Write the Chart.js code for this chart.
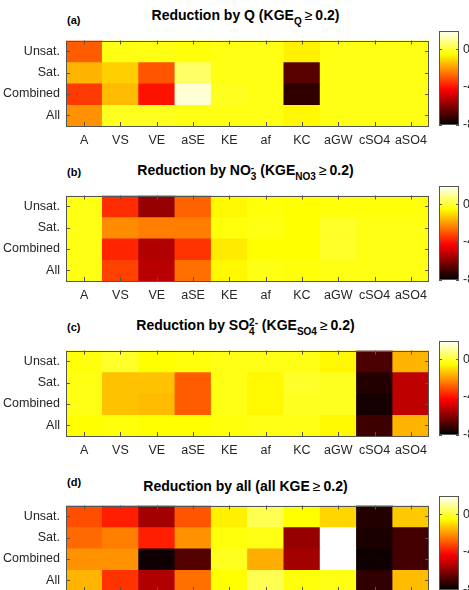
<!DOCTYPE html>
<html lang="en">
<head>
<meta charset="UTF-8">
<title>Reduction heatmaps</title>
<script src="https://cdn.jsdelivr.net/npm/chart.js"></script>
<style>
  body { margin: 0; background: #fff; }
  #wrap { position: relative; width: 469px; height: 590px; overflow: hidden; background: #fff;
          font-family: "Liberation Sans", Arial, sans-serif; }
  canvas { position: absolute; }
  .title { position: absolute; width: 365px; left: 63px; text-align: center; font-weight: bold;
           font-size: 14px; color: #000; line-height: 14px; white-space: nowrap; }
  .tag { position: absolute; left: 67px; font-weight: bold; font-size: 11px; color: #000; line-height: 13px; }
  .title sub { font-size: 10px; vertical-align: -5px; line-height: 0; }
  .stk { display: inline-block; vertical-align: -5px; line-height: 9px; font-size: 10px; text-align: left; }
  .ge { margin: 0 3px; font-weight: normal; }
</style>
</head>
<body>
<div id="wrap"></div>
<script>
  // categories
  const rows = ['Unsat.', 'Sat.', 'Combined', 'All'];
  const cols = ['A', 'VS', 'VE', 'aSE', 'KE', 'af', 'KC', 'aGW', 'cSO4', 'aSO4'];

  // (a) reduction by Q, one list per row
  const redQ = [
    [-2.9, -0.3, -0.3, -0.4, -0.3, -0.3, -0.7, -0.3, -0.3, -0.3],
    [-1.6, -1.2, -3.0,  0.5, -0.3, -0.3, -6.7, -0.3, -0.3, -0.3],
    [-3.4, -1.5, -4.0,  1.6, -0.2, -0.3, -7.3, -0.3, -0.3, -0.3],
    [-2.1, -0.2, -0.2, -0.3, -0.3, -0.3, -0.6, -0.3, -0.3, -0.3]
  ];
  // (b) reduction by NO3
  const redNO3 = [
    [-0.3, -3.6, -5.8, -2.8, -0.6, -0.4, -0.5, -0.4, -0.4, -0.4],
    [-0.3, -2.2, -2.4, -2.4, -0.4, -0.3, -0.5, -0.1, -0.3, -0.3],
    [-0.3, -3.7, -5.4, -3.5, -0.8, -0.5, -0.5, -0.1, -0.3, -0.3],
    [-0.3, -3.3, -5.3, -2.6, -0.6, -0.3, -0.4, -0.3, -0.3, -0.3]
  ];
  // (c) reduction by SO4
  const redSO4 = [
    [-0.4, -0.1, -0.5, -0.4, -0.3, -0.3, -0.3, -0.6, -6.9, -1.6],
    [-0.3, -1.4, -1.4, -2.9, -0.3, -0.6, -0.1, -0.2, -7.5, -5.2],
    [-0.3, -1.4, -1.5, -2.9, -0.3, -0.6, -0.2, -0.2, -7.7, -5.2],
    [-0.5, -0.4, -0.5, -0.5, -0.4, -0.3, -0.3, -0.6, -7.1, -1.6]
  ];
  // (d) reduction by all
  const redAll = [
    [-3.1, -3.8, -5.6, -3.0, -0.7,  0.3, -0.5, -1.1, -7.5, -1.3],
    [-2.7, -2.4, -3.8, -2.1, -0.4, -0.3, -5.8,  2.0, -7.6, -7.0],
    [-2.1, -2.1, -7.8, -6.8, -0.2, -1.7, -5.6,  2.0, -7.8, -7.0],
    [-1.6, -3.5, -5.4, -2.6, -0.5,  0.3, -0.4, -0.3, -7.3, -1.5]
  ];

  // colour bar
  const cbMin = -8;
  const cbMax = 2;
  const cbTicks = [0, -4, -8];

  const ge = '<span class="ge">&ge;</span>';
  const panels = [
    { tag: '(a)', data: redQ, top: 29, titleY: 8, tagY: 14,
      title: 'Reduction by Q (KGE<sub>Q</sub>' + ge + '0.2)' },
    { tag: '(b)', data: redNO3, top: 184, titleY: 163, tagY: 166,
      title: 'Reduction by NO<span class="stk">-<br>3</span> (KGE<sub>NO3</sub>' + ge + '0.2)' },
    { tag: '(c)', data: redSO4, top: 339, titleY: 318, tagY: 321,
      title: 'Reduction by SO<span class="stk">2-<br>4</span> (KGE<sub>SO4</sub>' + ge + '0.2)' },
    { tag: '(d)', data: redAll, top: 494, titleY: 479, tagY: 476,
      title: 'Reduction by all (all KGE' + ge + '0.2)' }
  ];

  const plotH = 97;
  const textColor = '#262626';
  const tickFont = { family: '"Liberation Sans", Arial, sans-serif', size: 12.5 };

  // MATLAB "hot" colormap over [cbMin, cbMax]
  function hot(v) {
    let t = (v - cbMin) / (cbMax - cbMin);
    t = Math.max(0, Math.min(1, t));
    const r = Math.min(1, t / 0.375);
    const g = Math.max(0, Math.min(1, (t - 0.375) / 0.375));
    const b = Math.max(0, Math.min(1, (t - 0.75) / 0.25));
    return `rgb(${Math.round(r * 255)},${Math.round(g * 255)},${Math.round(b * 255)})`;
  }

  // frame plus small inward ticks, like the MATLAB axes
  const framePlugin = {
    id: 'frame',
    afterDatasetsDraw(chart) {
      const { ctx, chartArea: a, scales } = chart;
      ctx.save();
      ctx.strokeStyle = '#555';
      ctx.lineWidth = 1;
      ctx.beginPath();
      scales.x.ticks.forEach((t, i) => {
        const x = Math.round(scales.x.getPixelForTick(i)) + 0.5;
        ctx.moveTo(x, a.bottom); ctx.lineTo(x, a.bottom - 4);
        ctx.moveTo(x, a.top); ctx.lineTo(x, a.top + 4);
      });
      scales.y.ticks.forEach((t, i) => {
        const y = Math.round(scales.y.getPixelForTick(i)) + 0.5;
        ctx.moveTo(a.left, y); ctx.lineTo(a.left + 4, y);
        ctx.moveTo(a.right, y); ctx.lineTo(a.right - 4, y);
      });
      ctx.stroke();
      ctx.strokeRect(Math.round(a.left) + 0.5, Math.round(a.top) + 0.5,
                     Math.round(a.width) - 1, Math.round(a.height) - 1);
      ctx.restore();
    }
  };

  const cbFramePlugin = {
    id: 'cbframe',
    afterDatasetsDraw(chart) {
      const { ctx, chartArea: a, scales } = chart;
      ctx.save();
      ctx.strokeStyle = '#555';
      ctx.lineWidth = 1;
      ctx.beginPath();
      cbTicks.forEach(v => {
        const y = Math.round(scales.y.getPixelForValue(v)) + 0.5;
        ctx.moveTo(a.left, y); ctx.lineTo(a.left + 3, y);
        ctx.moveTo(a.right, y); ctx.lineTo(a.right - 3, y);
      });
      ctx.stroke();
      ctx.strokeRect(Math.round(a.left) + 0.5, Math.round(a.top) + 0.5,
                     Math.round(a.width) - 1, Math.round(a.height) - 1);
      ctx.restore();
    }
  };

  function cbGradient(chart) {
    const a = chart.chartArea;
    if (!a) return null;
    const y = chart.scales.y;
    const g = chart.ctx.createLinearGradient(0, y.getPixelForValue(cbMin), 0, y.getPixelForValue(cbMax));
    g.addColorStop(0, '#000000');
    g.addColorStop(0.375, '#ff0000');
    g.addColorStop(0.75, '#ffff00');
    g.addColorStop(1, '#ffffff');
    return g;
  }

  const wrap = document.getElementById('wrap');

  function addCanvas(left, top, w, h) {
    const c = document.createElement('canvas');
    c.width = w; c.height = h;
    c.style.left = left + 'px'; c.style.top = top + 'px';
    wrap.appendChild(c);
    return c.getContext('2d');
  }

  panels.forEach(p => {
    const t = document.createElement('div');
    t.className = 'title';
    t.style.top = p.titleY + 'px';
    t.innerHTML = p.title;
    wrap.appendChild(t);

    const tag = document.createElement('div');
    tag.className = 'tag';
    tag.style.top = p.tagY + 'px';
    tag.textContent = p.tag;
    wrap.appendChild(tag);

    // heatmap: one floating-bar dataset per row
    const datasets = rows.map((r, i) => ({
      label: r,
      data: cols.map(() => [i, i + 1]),
      backgroundColor: p.data[i].map(hot),
      borderWidth: 0,
      grouped: false,
      barPercentage: 1,
      categoryPercentage: 1
    }));

    new Chart(addCanvas(0, p.top - 2, 434, plotH + 2 + 26), {
      type: 'bar',
      data: { labels: cols, datasets: datasets },
      options: {
        responsive: false,
        animation: false,
        layout: { padding: { top: 2, right: 3, left: 0, bottom: 0 } },
        plugins: { legend: { display: false }, tooltip: { enabled: false } },
        scales: {
          x: {
            grid: { display: false, drawTicks: false },
            border: { display: false },
            ticks: { color: textColor, font: tickFont, padding: 7, maxRotation: 0, autoSkip: false },
            afterFit: s => { s.height = 26; }
          },
          y: {
            min: 0, max: rows.length, reverse: true,
            grid: { display: false, drawTicks: false },
            border: { display: false },
            afterBuildTicks: s => { s.ticks = rows.map((r, i) => ({ value: i + 0.5 })); },
            ticks: { color: textColor, font: tickFont, padding: 6,
                     callback: v => rows[Math.floor(v)] },
            afterFit: s => { s.width = 66; }
          }
        }
      },
      plugins: [framePlugin]
    });

    // colour bar
    new Chart(addCanvas(435, p.top - 10, 34, plotH + 20), {
      type: 'bar',
      data: {
        labels: [''],
        datasets: [{
          data: [[cbMin, cbMax]],
          backgroundColor: ctx => cbGradient(ctx.chart),
          borderWidth: 0,
          barPercentage: 1,
          categoryPercentage: 1
        }]
      },
      options: {
        responsive: false,
        animation: false,
        layout: { padding: { top: 10, bottom: 10, left: 4, right: 0 } },
        plugins: { legend: { display: false }, tooltip: { enabled: false } },
        scales: {
          x: { display: false },
          y: {
            position: 'right',
            min: cbMin, max: cbMax,
            grid: { display: false, drawTicks: false },
            border: { display: false },
            afterBuildTicks: s => { s.ticks = cbTicks.map(v => ({ value: v })); },
            ticks: { color: textColor, font: tickFont, padding: 4 },
            afterFit: s => { s.width = 10; }
          }
        }
      },
      plugins: [cbFramePlugin]
    });
  });
</script>
</body>
</html>
